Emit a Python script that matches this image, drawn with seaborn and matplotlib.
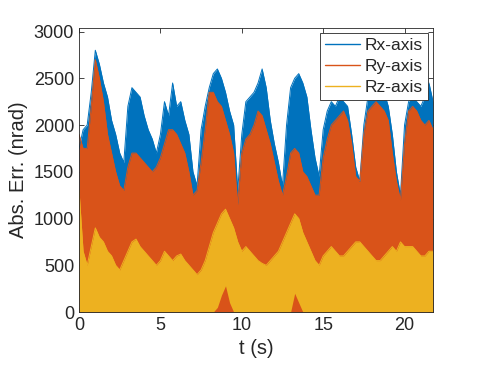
import numpy as np
import pandas as pd
import matplotlib
matplotlib.use('Agg')
import matplotlib.pyplot as plt
import seaborn as sns

# time base (s), one reading every 0.25 s
t = np.arange(88) * 0.25

# upper envelope of each error trace (nrad)
rx_top = [1750, 1950, 2000, 2350, 2800, 2650, 2450, 2300, 2050, 1900, 1700, 1600,
          2200, 2400, 2350, 2300, 2100, 1950, 1850, 1700, 1900, 2250, 2100, 2450,
          2200, 2250, 2050, 1900, 1500, 1350, 1950, 2200, 2400, 2550, 2600, 2500,
          2350, 2150, 2000, 1300, 1900, 2250, 2300, 2350, 2450, 2600, 2400, 2050,
          1800, 1600, 1350, 2000, 2400, 2500, 2550, 2450, 2300, 1950, 1650, 1450,
          1950, 2150, 2250, 2200, 2300, 2250, 2200, 1900, 1550, 1400, 2000, 2300,
          2400, 2450, 2400, 2350, 2200, 1900, 1500, 1250, 2000, 2250, 2300, 2250,
          2200, 2300, 2450, 2250]
ry_top = [1900, 1750, 1750, 2200, 2700, 2500, 2250, 1900, 1700, 1500, 1350, 1300,
          1550, 1700, 1700, 1650, 1600, 1550, 1500, 1550, 1650, 1800, 1950, 1950,
          1900, 1800, 1700, 1500, 1250, 1300, 1600, 1950, 2350, 2350, 2250, 2200,
          2050, 1900, 1700, 1150, 1700, 1850, 1900, 2000, 2150, 2100, 1950, 1800,
          1600, 1400, 1250, 1450, 1700, 1750, 1700, 1500, 1450, 1350, 1250, 1250,
          1650, 1850, 2000, 2050, 2100, 2150, 2050, 1800, 1450, 1400, 1900, 2150,
          2200, 2250, 2200, 2150, 2050, 1700, 1400, 1200, 1800, 2150, 2200, 2150,
          2050, 2000, 2050, 1950]
rz_top = [1300, 650, 500, 700, 900, 800, 750, 650, 600, 500, 450, 550,
          650, 750, 780, 700, 650, 600, 550, 500, 550, 650, 600, 550,
          600, 620, 550, 500, 450, 400, 450, 550, 700, 850, 950, 1050,
          1100, 1000, 900, 750, 650, 700, 650, 600, 550, 520, 500, 550,
          600, 650, 750, 850, 950, 1050, 1000, 850, 750, 650, 550, 500,
          600, 650, 700, 650, 600, 600, 650, 700, 750, 750, 700, 650,
          600, 550, 550, 600, 650, 700, 650, 750, 700, 700, 700, 650,
          600, 600, 650, 650]
# lower envelope of Rz (where it lifts off zero, Ry shows underneath)
rz_bottom = [0] * 34 + [50, 180, 280, 100] + [0] * 15 + [200, 100] + [0] * 33

labels = ['Rx-axis', 'Ry-axis', 'Rz-axis']
colors = ['#0072BD', '#D95319', '#EDB120']

sns.set_style('ticks')
plt.rcParams['font.family'] = ['Liberation Sans', 'DejaVu Sans']

fig = plt.figure(figsize=(4.79, 3.71), dpi=100)
ax = fig.add_axes([0.165, 0.159, 0.739, 0.766])

tops = [rx_top, ry_top, rz_top]
bottoms = [[0] * len(t), [0] * len(t), rz_bottom]
for top, bottom, lab, col in zip(tops, bottoms, labels, colors):
    df = pd.DataFrame({'t': t, 'err': top})
    ax.fill_between(t, bottom, top, color=col, lw=0)
    sns.lineplot(data=df, x='t', y='err', ax=ax, color=col, lw=0.7, label=lab)

ax.set_xlim(0, t[-1])
ax.set_ylim(0, 3040)
ax.set_xticks([0, 5, 10, 15, 20])
ax.set_yticks(np.arange(0, 3001, 500))
ax.set_xlabel('t (s)', fontsize=14.5, color='#262626')
ax.set_ylabel('Abs. Err. (nrad)', fontsize=14.5, color='#262626')
ax.tick_params(direction='in', labelsize=13, colors='#262626', top=True, right=True,
               length=3.5, width=0.6)
for s in ax.spines.values():
    s.set_visible(True)
    s.set_color('#262626')
    s.set_linewidth(0.6)

leg = ax.legend(loc='upper right', fontsize=12.5, handlelength=2.0, handletextpad=0.25,
                borderpad=0.3, labelspacing=0.32, borderaxespad=0.3, fancybox=False,
                framealpha=1, edgecolor='#262626')
leg.get_frame().set_linewidth(0.6)
for line in leg.get_lines():
    line.set_linewidth(1.0)

fig.savefig('out.png', dpi=100)
